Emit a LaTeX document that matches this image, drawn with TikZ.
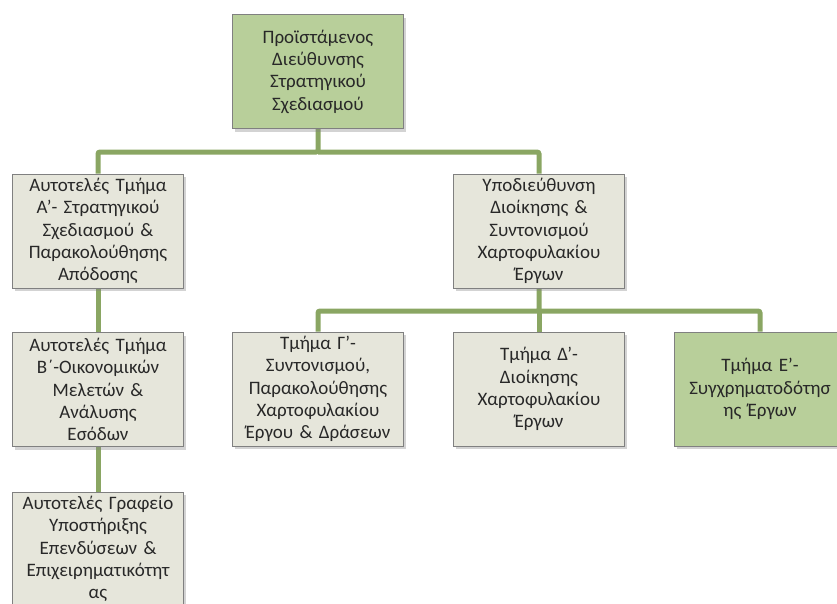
\documentclass[tikz,border=0pt]{standalone}
\usepackage{fontspec}
\setmainfont{Carlito}
\usetikzlibrary{shadows,backgrounds}
\definecolor{lineg}{RGB}{138,166,99}
\definecolor{boxgray}{RGB}{230,230,219}
\definecolor{boxgreen}{RGB}{184,207,154}
\definecolor{bordergray}{RGB}{128,128,128}
\definecolor{txt}{RGB}{40,40,40}
\begin{document}
\begin{tikzpicture}[x=1pt,y=-1pt,
  orgbox/.style={draw=bordergray, line width=0.9pt, fill=boxgray,
    minimum width=171pt, minimum height=114pt, text width=169pt,
    align=center, inner sep=0pt, text=txt,
    font=\fontsize{19}{22.3}\selectfont,
    drop shadow={opacity=0.35, shadow xshift=2pt, shadow yshift=-3pt}},
  greenbox/.style={orgbox, fill=boxgreen},
  conn/.style={draw=lineg, line width=5pt, rounded corners=2pt}]
\useasboundingbox (0,0) rectangle (837,603);
\node[greenbox] (top) at (318,71.5) {Προϊστάμενος\\Διεύθυνσης\\Στρατηγικού\\Σχεδιασμού};
\node[orgbox] (A) at (98,231) {Αυτοτελές Τμήμα\\Α’- Στρατηγικού\\Σχεδιασμού \&\\Παρακολούθησης\\Απόδοσης};
\node[orgbox] (Y) at (539,231) {Υποδιεύθυνση\\Διοίκησης \&\\Συντονισμού\\Χαρτοφυλακίου\\Έργων};
\node[orgbox] (B) at (98,389.5) {Αυτοτελές Τμήμα\\Β΄-Οικονομικών\\Μελετών \&\\Ανάλυσης\\Εσόδων};
\node[orgbox] (G) at (318,389) {Τμήμα Γ’-\\Συντονισμού,\\Παρακολούθησης\\Χαρτοφυλακίου\\Έργου \& Δράσεων};
\node[orgbox] (D) at (539,389) {Τμήμα Δ’-\\Διοίκησης\\Χαρτοφυλακίου\\Έργων};
\node[greenbox] (E) at (760,389) {Τμήμα Ε’-\\Συγχρηματοδότησ\\ης Έργων};
\node[orgbox] (C) at (98,549) {Αυτοτελές Γραφείο\\Υποστήριξης\\Επενδύσεων \&\\Επιχειρηματικότητ\\ας};
\begin{scope}[on background layer]
\draw[conn] (top.south) -- (top.south |- 0,152) -| (A.north);
\draw[conn] (top.south |- 0,152) -| (Y.north);
\draw[conn] (A.south) -- (B.north);
\draw[conn] (B.south) -- (C.north);
\draw[conn] (Y.south) -- (Y.south |- 0,311) -| (G.north);
\draw[conn] (Y.south |- 0,311) -| (E.north);
\draw[conn] (Y.south |- 0,311) -- (D.north);
\end{scope}
\end{tikzpicture}
\end{document}
